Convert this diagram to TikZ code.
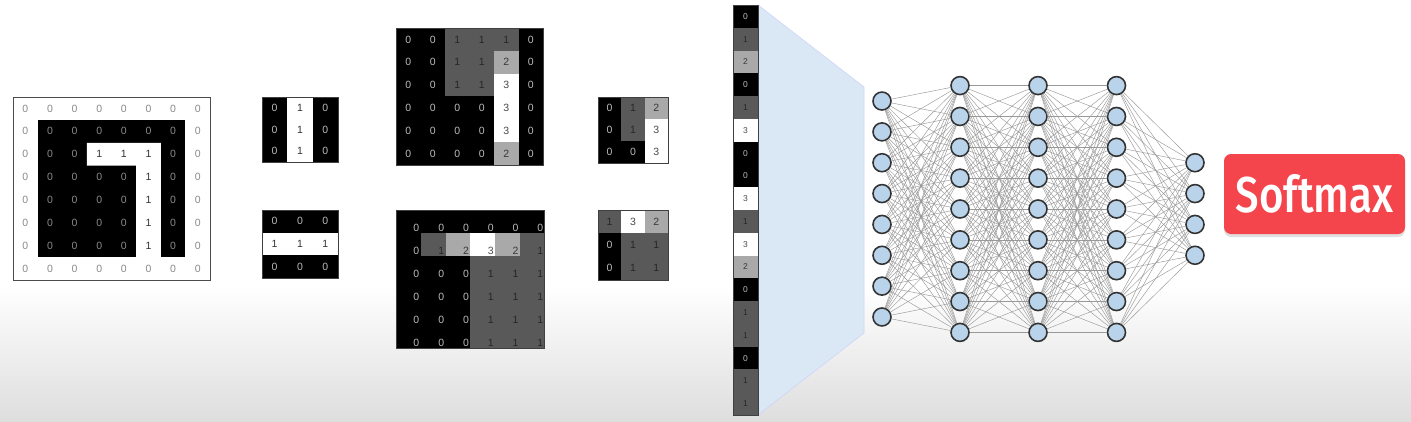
\documentclass[tikz,border=0pt]{standalone}
\usepackage{fontspec}
\setmainfont{Liberation Sans}
\newfontfamily\smfont{Fira Sans Medium}
\usetikzlibrary{shadows}

\definecolor{c0}{HTML}{000000}
\definecolor{c1}{HTML}{595959}
\definecolor{c2}{HTML}{A9A9A9}
\definecolor{c3}{HTML}{FFFFFF}
\definecolor{tc0}{HTML}{BBBBBB}
\definecolor{tc1}{HTML}{262626}
\definecolor{tc2}{HTML}{383838}
\definecolor{tc3}{HTML}{4A4A4A}
\definecolor{f0}{HTML}{000000}
\definecolor{f1}{HTML}{FFFFFF}
\definecolor{tf0}{HTML}{BBBBBB}
\definecolor{tf1}{HTML}{333333}
\definecolor{ti0}{HTML}{8A8A8A}
\definecolor{ti1}{HTML}{333333}
\definecolor{neuron}{HTML}{B9D3EA}
\definecolor{prism}{HTML}{DAE7F4}
\definecolor{softred}{HTML}{F4454D}
\definecolor{bgbot}{HTML}{DEDEDE}

% palette, name, x0, y0, cell width, cell height, size, rows
\newcommand\numgrid[8][c]{%
  \begin{scope}
    \clip (#3,#4) rectangle ++(#7*#5,#7*#6);
    \foreach \row [count=\i from 0] in {#8}{
      \foreach \v [count=\j from 0] in \row{
        \fill[#1\v] (#3+\j*#5,#4+\i*#6) rectangle ++(#5,#6);
        \node[num,text=t#1\v,numshift] (#2-\i-\j) at (#3+\j*#5+#5/2,#4+\i*#6+#6/2) {\v};
      }}
  \end{scope}
  \draw[frame] (#3,#4) rectangle ++(#7*#5,#7*#6);
}

\begin{document}
\begin{tikzpicture}[x=1pt,y=-1pt,
    num/.style={inner sep=0pt,font=\fontsize{10.5}{10.5}\selectfont},
    numshift/.style={},
    frame/.style={draw=black!75,line width=0.8pt},
    neuron/.style={circle,fill=neuron,draw=black!80,line width=1.6pt,minimum size=18pt,inner sep=0pt},
    link/.style={draw=black!40,line width=0.45pt},
    softbox/.style={fill=softred,rounded corners=7pt,minimum width=181pt,minimum height=80pt,
      text=white,font=\smfont\fontsize{42}{42}\selectfont,
      drop shadow={opacity=0.25,shadow xshift=0pt,shadow yshift=-3pt}}]
  \useasboundingbox (0,0) rectangle (1411,421);
  \fill[white] (0,0) rectangle (1411,421);
  \shade[top color=white,bottom color=bgbot] (0,285) rectangle (1411,421);

  % input image
  \fill[white] (13,97) rectangle (210,280);
  \fill[black] (37.6,119.9) rectangle (185.4,257.1);
  \fill[white] (86.9,142.8) -- (160.8,142.8) -- (160.8,257.1) -- (136.1,257.1) -- (136.1,165.6) -- (86.9,165.6) -- cycle;
  \foreach \row [count=\i from 0] in {{0,0,0,0,0,0,0,0},{0,0,0,0,0,0,0,0},{0,0,0,1,1,1,0,0},
      {0,0,0,0,0,1,0,0},{0,0,0,0,0,1,0,0},{0,0,0,0,0,1,0,0},{0,0,0,0,0,1,0,0},{0,0,0,0,0,0,0,0}}
    \foreach \v [count=\j from 0] in \row
      \node[num,text=ti\v] (in-\i-\j) at (13+\j*24.625+12.3,97+\i*22.875+11.4) {\v};
  \draw[draw=black!70,line width=0.8pt] (13,97) rectangle (210,280);

  % filters
  \numgrid[f]{fa}{262}{97}{25.3}{21.7}{3}{{0,1,0},{0,1,0},{0,1,0}}
  \numgrid[f]{fb}{262}{210}{25.3}{22.7}{3}{{0,0,0},{1,1,1},{0,0,0}}

  % feature maps
  \numgrid{ca}{396}{28}{24.5}{22.83}{6}{{0,0,1,1,1,0},{0,0,1,1,2,0},{0,0,1,1,3,0},
    {0,0,0,0,3,0},{0,0,0,0,3,0},{0,0,0,0,2,0}}
  \begin{scope}[numshift/.style={shift={(8,6)}}]
    \numgrid{cb}{396}{210}{24.8}{23}{6}{{0,0,0,0,0,0},{0,1,2,3,2,1},{0,0,0,1,1,1},
      {0,0,0,1,1,1},{0,0,0,1,1,1},{0,0,0,1,1,1}}
  \end{scope}

  % pooling
  \numgrid{pa}{598}{97}{23.3}{22}{3}{{0,1,2},{0,1,3},{0,0,3}}
  \numgrid{pb}{598}{210}{23.3}{23.3}{3}{{1,3,2},{0,1,1},{0,1,1}}

  % flattened vector
  \fill[prism] (758,5) -- (864,87) -- (864,333) -- (758,415) -- cycle;
  \draw[draw=prism!80!blue!60,line width=0.6pt] (758,5) -- (864,87) -- (864,333) -- (758,415);
  \foreach \v [count=\i from 0] in {0,1,2,0,1,3,0,0,3,1,3,2,0,1,1,0,1,1}{
    \fill[c\v] (733,5+\i*22.78) rectangle ++(25,22.78);
    \node[num,text=tc\v,font=\fontsize{8.5}{8.5}\selectfont] (vec-\i) at (745.5,5+\i*22.78+11.4) {\v};
  }
  \draw[frame] (733,5) rectangle (758,415);

  % dense layers
  \foreach \n/\x [count=\l] in {8/882,9/960,9/1038,9/1116.5,4/1195}
    \foreach \k in {1,...,\n}
      \node[neuron] (n\l-\k) at (\x,{209+(\k-(\n+1)/2)*30.85}) {};
  \foreach \a/\b/\na/\nb in {1/2/8/9,2/3/9/9,3/4/9/9,4/5/9/4}
    \foreach \i in {1,...,\na}
      \foreach \j in {1,...,\nb}
        \draw[link] (n\a-\i) -- (n\b-\j);

  \node[softbox] (soft) at (1314.5,194) {\scalebox{1}[1.2]{Softmax}};
\end{tikzpicture}
\end{document}
